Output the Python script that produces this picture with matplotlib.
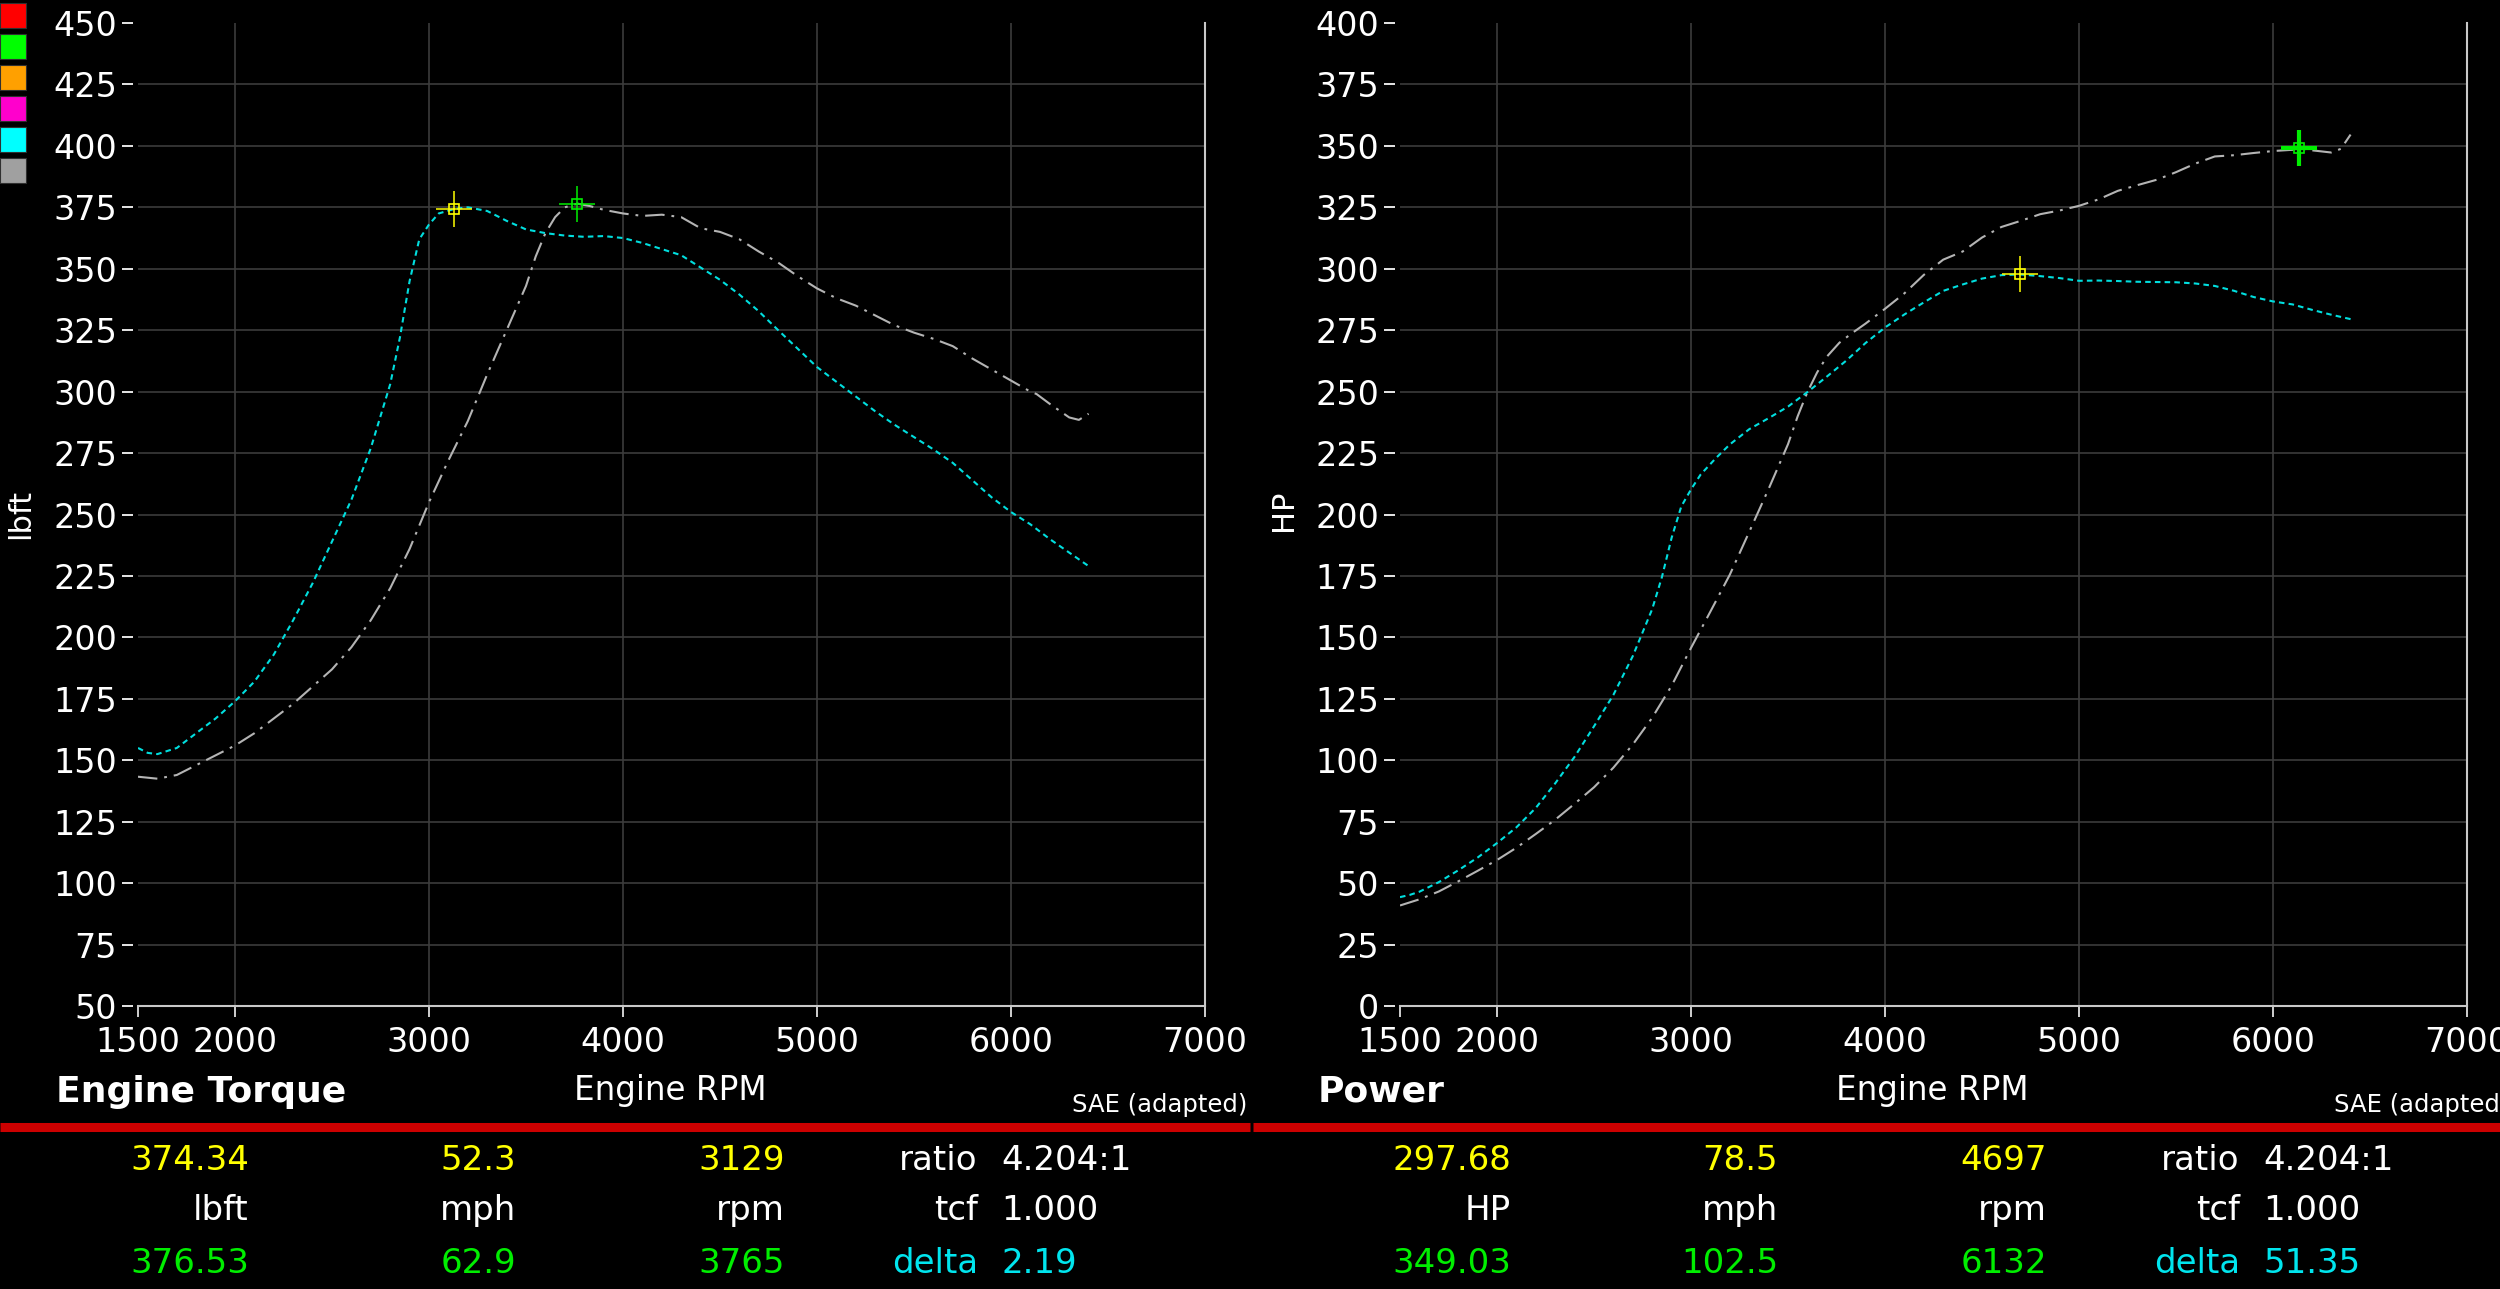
import matplotlib
matplotlib.use('Agg')
import matplotlib.pyplot as plt
from matplotlib.patches import Rectangle
from matplotlib.lines import Line2D

plt.rcParams['font.family'] = ['DejaVu Sans']
plt.rcParams['lines.scale_dashes'] = False

# ---------------- data ----------------
rpm_a = [1500, 1550, 1600, 1700, 1800, 1900, 2000, 2100, 2200, 2300, 2400, 2500, 2600,
         2700, 2800, 2850, 2900, 2950, 3000, 3050, 3129, 3200, 3300, 3400, 3500, 3600,
         3700, 3800, 3900, 4000, 4100, 4200, 4300, 4400, 4500, 4600, 4697, 4800, 4900,
         5000, 5100, 5200, 5300, 5400, 5500, 5600, 5700, 5800, 5900, 6000, 6100, 6200,
         6300, 6400]
torque_a = [155, 153, 152.5, 155, 161, 167, 174, 182, 193, 207, 222, 239, 256,
            277, 303, 322, 345, 362, 368, 372.5, 374.3, 375, 373.5, 369.5, 366, 364.5,
            363.5, 363, 363.3, 362.5, 360.5, 358, 355.5, 350.5, 345.5, 339.5, 332.9, 325, 317.5,
            310, 304, 298, 292, 286.5, 281.5, 276.5, 271, 264, 257, 251, 246, 240,
            234.5, 229]
hp_a = [44.3, 45.2, 46.5, 50.4, 55.2, 60.4, 66.3, 72.7, 80.6, 90.6, 101.4, 113.8, 126.6,
        142.4, 161.5, 174.5, 190.5, 203.3, 210.2, 216.3, 223.0, 228.5, 234.7, 239.2, 243.9, 249.8,
        256.1, 262.6, 269.8, 276.1, 281.4, 286.3, 291.0, 293.6, 296.0, 297.4, 297.7, 297.0, 296.2,
        295.1, 295.2, 295.0, 294.7, 294.6, 294.5, 294.0, 293.0, 291.0, 288.5, 286.7, 285.5, 283.3,
        281.3, 279.5]

rpm_b = [1500, 1600, 1700, 1800, 1900, 2000, 2100, 2200, 2300, 2400, 2500, 2600, 2700,
         2800, 2900, 3000, 3100, 3200, 3300, 3400, 3500, 3550, 3600, 3650, 3700, 3765,
         3830, 3900, 4000, 4100, 4200, 4300, 4400, 4500, 4600, 4700, 4800, 4900, 5000,
         5100, 5200, 5300, 5400, 5500, 5600, 5700, 5800, 5900, 6000, 6100, 6132, 6200,
         6300, 6350, 6400]
torque_b = [143.3, 142.5, 144, 148, 152, 156, 161, 167, 173, 180, 187, 196, 207,
            220, 236, 255, 272, 288, 307, 325, 343, 355, 364.5, 371, 375, 376.5,
            375.5, 374, 372.5, 371.5, 372, 371, 366.5, 365, 362, 357, 352.5, 347, 342,
            338, 335, 331, 327, 324, 321.5, 318.5, 313.5, 309, 304.5, 300, 299, 295,
            289.5, 288.5, 291]
hp_b = [40.9, 43.4, 46.6, 50.7, 55.0, 59.4, 64.4, 70.0, 75.8, 82.3, 89.0, 97.0, 106.4,
        117.3, 130.3, 145.7, 160.5, 175.5, 192.9, 210.4, 228.6, 240.0, 249.8, 257.8, 264.2, 269.9,
        273.8, 277.7, 283.7, 290.0, 297.5, 303.7, 307.0, 312.7, 317.0, 319.5, 322.2, 323.7, 325.6,
        328.2, 331.7, 334.0, 336.2, 339.3, 342.8, 345.7, 346.2, 347.1, 347.9, 348.4, 349.1, 348.2,
        347.3, 348.8, 354.6]

# cursor markers (rpm, value)
torque_cursor_a = (3129, 374.34)
torque_cursor_b = (3765, 376.53)
hp_cursor_a = (4697, 297.68)
hp_cursor_b = (6132, 349.03)

x_ticks = [1500, 2000, 3000, 4000, 5000, 6000, 7000]
torque_ticks = list(range(50, 451, 25))
hp_ticks = list(range(0, 401, 25))

legend_colors = ['#ff0000', '#00ff00', '#ffa000', '#ff00cc', '#00ffff', '#a0a0a0']

left_rows = [["374.34", "52.3", "3129", "ratio", "4.204:1"],
             ["lbft", "mph", "rpm", "tcf", "1.000"],
             ["376.53", "62.9", "3765", "delta", "2.19"]]
right_rows = [["297.68", "78.5", "4697", "ratio", "4.204:1"],
              ["HP", "mph", "rpm", "tcf", "1.000"],
              ["349.03", "102.5", "6132", "delta", "51.35"]]

# ---------------- figure ----------------
W, H = 2500, 1289
fig = plt.figure(figsize=(W / 100, H / 100), dpi=100, facecolor='black')


def fx(x):
    return x / W


def fy(y):
    return 1 - y / H


CYAN = '#00dede'
GRAY = '#b4b4b4'
YELLOW = '#ffff00'
GREEN = '#00ee00'
GRID = '#3c3c3c'


def make_axes(x0, x1, ylim, yticks):
    y0, y1 = 23, 1006
    ax = fig.add_axes([fx(x0), fy(y1), (x1 - x0) / W, (y1 - y0) / H])
    ax.set_facecolor('black')
    ax.set_xlim(1500, 7000)
    ax.set_ylim(*ylim)
    ax.set_xticks(x_ticks)
    ax.set_yticks(yticks)
    ax.spines['top'].set_visible(False)
    ax.spines['left'].set_visible(False)
    ax.spines['left'].set_position(('outward', 3.6))
    for s in ['bottom', 'right']:
        ax.spines[s].set_color('#c8c8c8')
        ax.spines[s].set_linewidth(1.5)
    ax.tick_params(axis='y', length=7.9, width=1.4, color='#e6e6e6', pad=3.6,
                   labelsize=24, labelcolor='white')
    ax.tick_params(axis='x', length=7.9, width=1.4, color='#d0d0d0', pad=6.5,
                   labelsize=24, labelcolor='white')
    for yv in yticks[1:-1]:
        ax.axhline(yv, color=GRID, lw=1.2, zorder=0.5)
    for xv in x_ticks[1:-1]:
        ax.axvline(xv, color=GRID, lw=1.2, zorder=0.5)
    return ax


def cursor(ax, pt, color, lw):
    ax.plot([pt[0]], [pt[1]], marker='+', ms=26.5, mew=lw, color=color, zorder=5)
    ax.plot([pt[0]], [pt[1]], marker='s', ms=6.5, mfc='none', mec=color, mew=1.2, zorder=6)


# left: torque
ax1 = make_axes(138, 1205, (50, 450), torque_ticks)
ax1.plot(rpm_b, torque_b, color=GRAY, lw=1.5, dashes=(14, 5, 2, 5), zorder=3)
ax1.plot(rpm_a, torque_a, color=CYAN, lw=1.5, dashes=(4, 3), zorder=4)
cursor(ax1, torque_cursor_a, YELLOW, 1.1)
cursor(ax1, torque_cursor_b, GREEN, 1.1)

# right: power
ax2 = make_axes(1400, 2467, (0, 400), hp_ticks)
ax2.plot(rpm_b, hp_b, color=GRAY, lw=1.5, dashes=(14, 5, 2, 5), zorder=3)
ax2.plot(rpm_a, hp_a, color=CYAN, lw=1.5, dashes=(4, 3), zorder=4)
cursor(ax2, hp_cursor_a, YELLOW, 1.1)
cursor(ax2, hp_cursor_b, GREEN, 3.0)

# y labels
fig.text(fx(21), fy(514), 'lbft', rotation=90, ha='center', va='center',
         color='white', fontsize=22)
fig.text(fx(1284), fy(510), 'HP', rotation=90, ha='center', va='center',
         color='white', fontsize=22)

# legend color squares
for i, c in enumerate(legend_colors):
    top = 3 + i * 31
    fig.patches.append(Rectangle((fx(0), fy(top + 25)), 26 / W, 25 / H,
                                 transform=fig.transFigure, facecolor=c,
                                 edgecolor='#303030', lw=0.8))

# bottom panel
titles = ['Engine Torque', 'Power']
for k, (off, rows) in enumerate([(0, left_rows), (1262, right_rows)]):
    fig.text(fx(56 + off), fy(1102), titles[k], color='white', fontsize=26,
             fontweight='bold', ha='left', va='baseline')
    fig.text(fx(670 + off), fy(1100), 'Engine RPM', color='white', fontsize=23.5,
             ha='center', va='baseline')
    fig.text(fx(1247 + off), fy(1112), 'SAE (adapted)', color='white', fontsize=17.5,
             ha='right', va='baseline')
    baselines = [1170, 1220, 1273]
    col_x = [249, 516, 785, 978, 1001]
    col_ha = ['right', 'right', 'right', 'right', 'left']
    row_colors = [[YELLOW, YELLOW, YELLOW, 'white', 'white'],
                  ['white'] * 5,
                  [GREEN, GREEN, GREEN, '#00e5ee', '#00e5ee']]
    for r, row in enumerate(rows):
        for c, txt in enumerate(row):
            fig.text(fx(col_x[c] + off), fy(baselines[r]), txt, color=row_colors[r][c],
                     fontsize=24.5, ha=col_ha[c], va='baseline')

# red separator
fig.add_artist(Line2D([0, fx(1250)], [fy(1126.5)] * 2, color='#cc0000', lw=6.5,
                      transform=fig.transFigure, solid_capstyle='butt'))
fig.add_artist(Line2D([fx(1253), 1], [fy(1126.5)] * 2, color='#cc0000', lw=6.5,
                      transform=fig.transFigure, solid_capstyle='butt'))

fig.savefig('out.png', dpi=100, facecolor='black')
